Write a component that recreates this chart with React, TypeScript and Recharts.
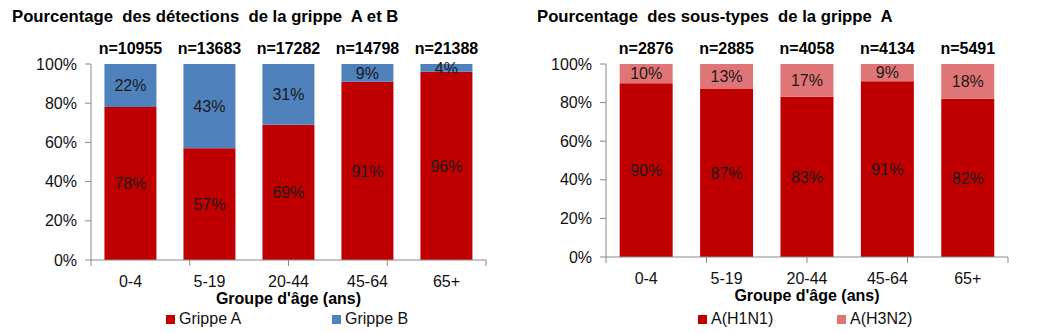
import React from 'react';
import { BarChart, Bar, XAxis, YAxis, LabelList } from 'recharts';

// age groups shared by both panels
const ageGroups = ['0-4', '5-19', '20-44', '45-64', '65+'];

// left panel: grippe A vs B
const grippeA = [78, 57, 69, 91, 96];
const grippeB = [22, 43, 31, 9, 4];
const nDetections = ['n=10955', 'n=13683', 'n=17282', 'n=14798', 'n=21388'];

// right panel: sous-types A
const h1n1 = [90, 87, 83, 91, 82];
const h3n2 = [10, 13, 17, 9, 18];
const nSubtypes = ['n=2876', 'n=2885', 'n=4058', 'n=4134', 'n=5491'];

const yTicks = [0, 20, 40, 60, 80, 100];
const edgeTicks = [0, 1, 2, 3, 4, 5];

const FONT = '"Liberation Sans", Arial, sans-serif';
const FS = 16;
const RED = '#C00000';
const BLUE = '#4F81BD';
const PINK = '#E07577';
const AXIS = '#898989';

const leftData = ageGroups.map((g, i) => ({ group: g, low: grippeA[i], high: grippeB[i], n: nDetections[i] }));
const rightData = ageGroups.map((g, i) => ({ group: g, low: h1n1[i], high: h3n2[i], n: nSubtypes[i] }));

const pct = (v: any) => `${v}%`;

function NLabel(props: any) {
  const { x, y, width, value } = props;
  return (
    <text x={x + width / 2} y={y - 16} textAnchor="middle" dominantBaseline="central"
      fontFamily={FONT} fontSize={FS} fontWeight="bold" fill="#000">
      {value}
    </text>
  );
}

function Panel(props: {
  data: any[]; width: number; margin: any; title: string; titleLeft: number;
  lowColor: string; highColor: string;
  legendItems: { name: string; color: string; left: number }[];
}) {
  const { data, width, margin, title, titleLeft } = props;
  return (
    <div style={{ position: 'relative', width, height: 333 }}>
      <div style={{ position: 'absolute', left: titleLeft, top: 7, fontFamily: FONT, fontSize: 16.7, fontWeight: 'bold', whiteSpace: 'pre', color: '#000' }}>
        {title}
      </div>
      <BarChart width={width} height={333} data={data} margin={margin} barCategoryGap="17%">
        {/* boundary ticks between categories, Excel style */}
        <XAxis xAxisId="a" type="number" domain={[0, 5]} ticks={edgeTicks} tickFormatter={() => ''}
          height={1} axisLine={{ stroke: AXIS }} tickLine={{ stroke: AXIS }} tickSize={6} allowDataOverflow />
        <XAxis xAxisId="b" dataKey="group" height={44} axisLine={false} tickLine={false} tickSize={0} tickMargin={15}
          tick={{ fontFamily: FONT, fontSize: FS, fill: '#111' }} interval={0}
          label={({ viewBox }: any) => (
            <text x={viewBox.x + viewBox.width / 2} y={viewBox.y + 37} textAnchor="middle" dominantBaseline="central"
              fontFamily={FONT} fontSize={FS} fontWeight="bold" fill="#000">Groupe d'âge (ans)</text>
          )} />
        <YAxis width={60} domain={[0, 100]} ticks={yTicks} tickFormatter={pct} interval={0}
          axisLine={{ stroke: AXIS }} tickLine={{ stroke: AXIS }} tickSize={6} tickMargin={8}
          tick={{ fontFamily: FONT, fontSize: FS, fill: '#111' }} />
        <Bar xAxisId="b" dataKey="low" stackId="s" fill={props.lowColor} isAnimationActive={false}>
          <LabelList dataKey="low" position="center" formatter={pct}
            style={{ fontFamily: FONT, fontSize: FS, fill: '#1a1a1a' }} />
        </Bar>
        <Bar xAxisId="b" dataKey="high" stackId="s" fill={props.highColor} isAnimationActive={false}>
          <LabelList dataKey="high" position="center" formatter={pct}
            style={{ fontFamily: FONT, fontSize: FS, fill: '#1a1a1a' }} />
          <LabelList dataKey="n" content={<NLabel />} />
        </Bar>
      </BarChart>
      {props.legendItems.map((it) => (
        <div key={it.name} style={{ position: 'absolute', left: it.left, top: 310, display: 'flex', alignItems: 'center',
          whiteSpace: 'pre', fontFamily: FONT, fontSize: FS, color: '#111' }}>
          <span style={{ display: 'inline-block', width: 9, height: 9, background: it.color, marginRight: 4 }} />
          {it.name}
        </div>
      ))}
    </div>
  );
}

export default function App() {
  return (
    <div style={{ position: 'absolute', left: 0, top: 0, width: 1048, height: 333, background: '#fff' }}>
      <div style={{ position: 'absolute', left: 0, top: 0 }}>
        <Panel data={leftData} width={520} margin={{ top: 64, right: 34, bottom: 28, left: 31 }}
          title="Pourcentage  des détections  de la grippe  A et B" titleLeft={12}
          lowColor={RED} highColor={BLUE}
          legendItems={[{ name: 'Grippe A', color: RED, left: 166 }, { name: 'Grippe B', color: BLUE, left: 332 }]} />
      </div>
      <div style={{ position: 'absolute', left: 520, top: 0 }}>
        <Panel data={rightData} width={528} margin={{ top: 64, right: 40, bottom: 31, left: 26 }}
          title="Pourcentage  des sous-types  de la grippe  A" titleLeft={17}
          lowColor={RED} highColor={PINK}
          legendItems={[{ name: 'A(H1N1)', color: RED, left: 178 }, { name: 'A(H3N2)', color: PINK, left: 317 }]} />
      </div>
    </div>
  );
}
